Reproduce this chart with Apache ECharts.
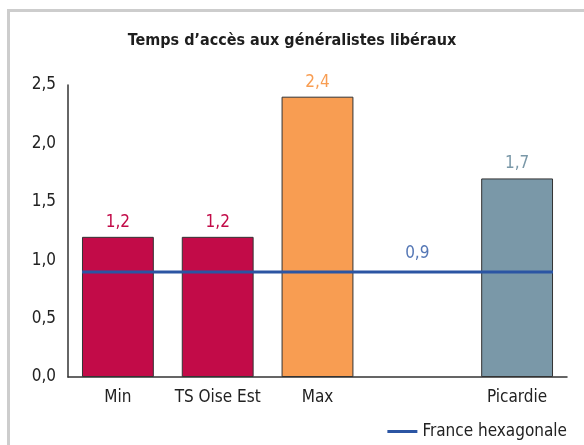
<!DOCTYPE html>
<html>
<head>
<meta charset="utf-8">
<script src="https://cdn.jsdelivr.net/npm/echarts@6/dist/echarts.min.js"></script>
<style>
  html, body { margin: 0; padding: 0; background: #fff; }
  #frame {
    position: absolute; left: 7px; top: 9px; width: 600px; height: 460px;
    border-top: 3px solid #cdcdcd; border-left: 3px solid #cdcdcd;
  }
  #chart { position: absolute; left: 0; top: 0; width: 584px; height: 445px; }
</style>
</head>
<body>
<div id="frame"></div>
<div id="chart"></div>
<script>
// données
const categories = ['Min', 'TS Oise Est', 'Max', '', 'Picardie'];
const values = [1.2, 1.2, 2.4, null, 1.7];
const barColors = ['#c20b48', '#c20b48', '#f89d52', '#7a98a8', '#7a98a8'];
const franceValue = 0.9;

const font = "'Liberation Sans Narrow', 'DejaVu Sans Condensed', 'Roboto Condensed', sans-serif";
const fmt = v => v.toFixed(1).replace('.', ',');

const chart = echarts.init(document.getElementById('chart'));

// la ligne France s'étend du bord gauche de la 1re barre au bord droit de la dernière
const lineData = categories.map(() => franceValue);
const labelData = categories.map((c, i) => (i === 3 ? franceValue : null));

chart.setOption({
  animation: false,
  textStyle: { fontFamily: font },
  title: {
    text: 'Temps d\u2019accès aux généralistes libéraux',
    left: 'center',
    top: 28,
    textStyle: { fontFamily: font, fontSize: 16, fontWeight: 'bold', color: '#1e1e1e' }
  },
  legend: {
    data: ['France hexagonale'],
    right: 12,
    top: 418,
    itemWidth: 30,
    itemHeight: 3,
    itemGap: 6,
    icon: 'rect',
    textStyle: { fontFamily: font, fontSize: 17, color: '#222' }
  },
  grid: [
    { left: 68, right: 17, top: 85, bottom: 68 },
    { left: 82, right: 31, top: 85, bottom: 68 }
  ],
  xAxis: [
    {
      type: 'category',
      gridIndex: 0,
      data: categories,
      axisLine: { lineStyle: { color: '#333', width: 1.5 } },
      axisTick: { show: false },
      axisLabel: { color: '#222', fontSize: 17, fontFamily: font, margin: 12, interval: 0 }
    },
    {
      type: 'category',
      gridIndex: 1,
      data: categories,
      boundaryGap: false,
      show: false
    }
  ],
  yAxis: [
    {
      type: 'value',
      gridIndex: 0,
      min: 0,
      max: 2.5,
      interval: 0.5,
      axisLine: { show: true, lineStyle: { color: '#333', width: 1.5 } },
      axisTick: { show: false },
      splitLine: { show: false },
      axisLabel: { color: '#222', fontSize: 17, fontFamily: font, margin: 12, formatter: fmt }
    },
    {
      type: 'value',
      gridIndex: 1,
      min: 0,
      max: 2.5,
      show: false
    }
  ],
  series: [
    {
      name: 'Temps',
      type: 'bar',
      xAxisIndex: 0,
      yAxisIndex: 0,
      barWidth: '72%',
      data: values.map((v, i) => ({
        value: v,
        itemStyle: { color: barColors[i] },
        label: { color: barColors[i] }
      })),
      itemStyle: { borderColor: '#333', borderWidth: 1 },
      label: {
        show: true,
        position: 'top',
        distance: 6,
        fontSize: 17,
        fontFamily: font,
        formatter: p => fmt(p.value)
      }
    },
    {
      name: 'France hexagonale',
      type: 'line',
      xAxisIndex: 1,
      yAxisIndex: 1,
      data: lineData,
      symbol: 'none',
      color: '#2b55a3',
      lineStyle: { color: '#2b55a3', width: 3 },
      z: 5
    },
    {
      name: 'France label',
      type: 'scatter',
      xAxisIndex: 0,
      yAxisIndex: 0,
      data: labelData,
      symbolSize: 1,
      itemStyle: { color: 'rgba(0,0,0,0)' },
      label: {
        show: true,
        position: 'top',
        distance: 9,
        color: '#2b55a3',
        fontSize: 17,
        fontFamily: font,
        formatter: p => fmt(p.value)
      }
    }
  ]
});
</script>
</body>
</html>
